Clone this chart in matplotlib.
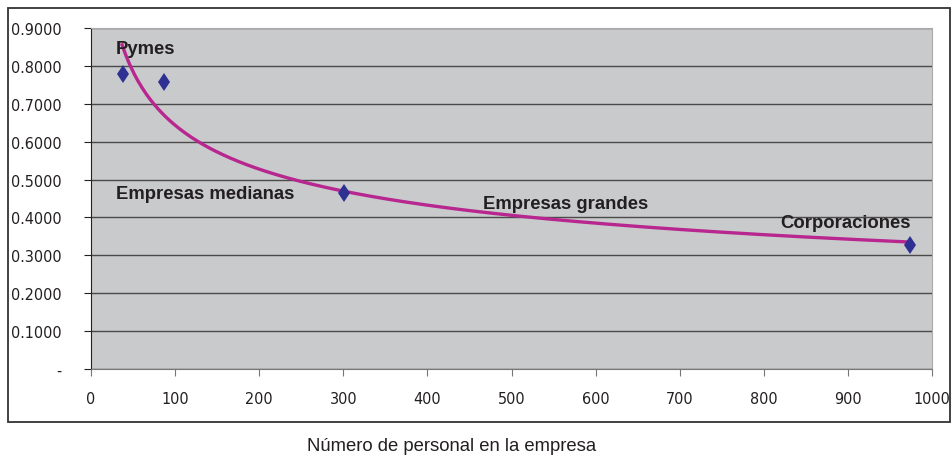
import numpy as np
import matplotlib.pyplot as plt
from matplotlib.patches import Rectangle

# data
personal = [38, 87, 301, 974]
indice = [0.778, 0.757, 0.464, 0.327]

etiquetas = ['Pymes', 'Empresas medianas', 'Empresas grandes', 'Corporaciones']
etiq_x = [30, 30, 466, 819]
etiq_y = [0.846, 0.462, 0.438, 0.386]

yticks = [0, 0.1, 0.2, 0.3, 0.4, 0.5, 0.6, 0.7, 0.8, 0.9]
ytick_labels = ['-'] + ['%.4f' % v for v in yticks[1:]]
xticks = list(range(0, 1001, 100))

plt.rcParams['font.family'] = ['Liberation Sans', 'DejaVu Sans']

fig = plt.figure(figsize=(9.51, 4.56), dpi=100)
ax = fig.add_axes([91/951, 1-370/456, (932-91)/951, (370-29)/456])
ax.set_facecolor('#c9cacc')

# frame around the chart
fig.patches.append(Rectangle((8/951, 1-423/456), (950-8)/951, (423-9)/456,
                             transform=fig.transFigure, fill=False,
                             edgecolor='#333333', lw=1.3))

# power trendline (fit in log space, like Excel)
b, lna = np.polyfit(np.log(personal), np.log(indice), 1)
xm = np.linspace(37, 975, 400)
ax.plot(xm, np.exp(lna)*xm**b, color='#b8268f', lw=2.4, zorder=3)

ax.plot(personal, indice, 'd', color='#2e3192', ms=9.5, mew=0, zorder=4)

for t, x, y in zip(etiquetas, etiq_x, etiq_y):
    ax.text(x, y, t, fontsize=13.3, fontweight='bold', color='#231f20',
            va='center', ha='left', zorder=5)

ax.set_xlim(0, 1000)
ax.set_ylim(0, 0.9)
ax.set_yticks(yticks)
ax.set_yticklabels(ytick_labels)
ax.set_xticks(xticks)
ax.yaxis.grid(True, color='#4a4a4a', lw=1.0)
ax.set_axisbelow(True)

for lab in ax.get_xticklabels() + ax.get_yticklabels():
    lab.set_family('DejaVu Sans')
    lab.set_stretch('condensed')
    lab.set_fontsize(11.5)
    lab.set_color('#231f20')

ax.tick_params(axis='y', direction='out', length=5, color='#222222', pad=16)
ax.tick_params(axis='x', direction='out', length=5, color='#777777', pad=11)

ax.spines['left'].set_color('#222222')
ax.spines['bottom'].set_color('#777777')
ax.spines['top'].set_color('#aaaaaa')
ax.spines['right'].set_color('#aaaaaa')

fig.text(452/951, 1-447/456, 'Número de personal en la empresa',
         fontsize=13.3, color='#231f20', ha='center', va='center')

fig.savefig('out.png', dpi=100)
